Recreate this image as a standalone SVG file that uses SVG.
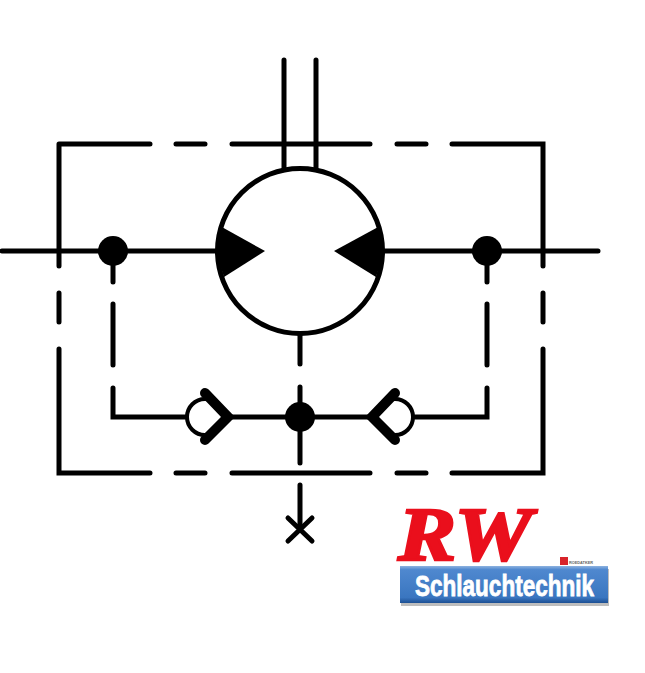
<svg xmlns="http://www.w3.org/2000/svg" width="645" height="673" viewBox="0 0 645 673">
<style>
.l{fill:none;stroke:#000;stroke-width:5;stroke-linecap:round;stroke-linejoin:miter}
.d{fill:#000}
.seat{fill:none;stroke:#000;stroke-width:10;stroke-linecap:round;stroke-linejoin:miter}
.ball{fill:#fff;stroke:#000;stroke-width:4}
</style>
<defs>
<linearGradient id="bar" x1="0" y1="0" x2="0" y2="1">
<stop offset="0" stop-color="#8db2e0"/>
<stop offset="0.1" stop-color="#4f88cf"/>
<stop offset="0.85" stop-color="#3a76c0"/>
<stop offset="1" stop-color="#1c4f93"/>
</linearGradient>
</defs>
<rect width="645" height="673" fill="#fff"/>
<g id="connectors">
<path class="l" d="M59 144H150M176 144H205M232 144H370M397 144H426M452 144H543V266M543 293V322M543 349V473H452M426 473H397M370 473H232M205 473H176M150 473H59V349M59 322V293M59 266V144"/>
<path class="l" d="M2 251H216M384 251H598"/>
<path class="l" d="M284 60V168M316 60V168"/>
<path class="l" d="M113 251V282M113 304V365M113 388V417H186M487 251V282M487 304V365M487 388V417H414"/>
<path class="l" d="M230 417H370"/>
<path class="l" d="M300 335V364M300 387V463M300 485V528"/>
</g>
<g id="motor">
<circle cx="300" cy="251" r="82.5" fill="#fff" stroke="#000" stroke-width="5"/>
<path class="d" d="M220 226L265 251L224 277A85 85 0 0 1 220 226Z"/>
<path class="d" d="M380 226L334 251L376 277A85 85 0 0 0 380 226Z"/>
</g>
<g id="junction-left"><circle class="d" cx="113" cy="251" r="15"/></g>
<g id="junction-right"><circle class="d" cx="487" cy="251" r="15"/></g>
<g id="junction-center"><circle class="d" cx="300" cy="417" r="15"/></g>
<g id="check-left">
<circle class="ball" cx="205" cy="417" r="18"/>
<path class="seat" d="M205 393L228 417L205 440"/>
</g>
<g id="check-right">
<circle class="ball" cx="395" cy="417" r="18"/>
<path class="seat" d="M395 393L372 417L395 440"/>
</g>
<g id="plug">
<path class="l" d="M288 518L312 541M312 518L288 541"/>
</g>
<g id="logo">
<text x="398" y="560" font-family="'Liberation Serif',serif" font-weight="700" font-style="italic" font-size="76" fill="#ea0f1c" stroke="#ea0f1c" stroke-width="2.5" textLength="134" lengthAdjust="spacingAndGlyphs">RW</text>
<rect x="560" y="557" width="8" height="8" fill="#d8232a"/>
<text x="569" y="564" font-family="'Liberation Sans',sans-serif" font-size="4" font-weight="700" fill="#666" textLength="24" lengthAdjust="spacingAndGlyphs">ROEDATKER</text>
<rect x="401" y="569" width="208" height="37" fill="#bdbdbd"/>
<rect x="400" y="566" width="208" height="37" fill="url(#bar)"/>
<text x="415" y="596" font-family="'Liberation Sans',sans-serif" font-weight="700" font-size="29" fill="#fff" stroke="#fff" stroke-width="0.8" textLength="179" lengthAdjust="spacingAndGlyphs">Schlauchtechnik</text>
</g>
</svg>
